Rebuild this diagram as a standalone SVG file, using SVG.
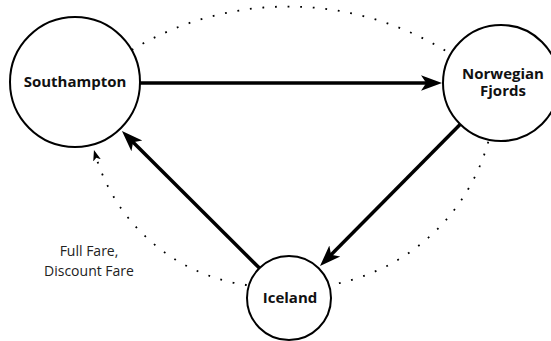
<svg xmlns="http://www.w3.org/2000/svg" width="551" height="341" viewBox="0 0 551 341">
  <style>
    .bg { fill: #ffffff; }
    .link { fill: none; stroke: #000000; }
    .solid { stroke-width: 3.5; }
    .dotted { stroke-width: 1.8; stroke-dasharray: 1.8 10.8; }
    .node circle { fill: #ffffff; stroke: #000000; stroke-width: 2; }
    .node text { font-family: "Open Sans", "DejaVu Sans", sans-serif; font-weight: bold; font-size: 15px; fill: #111111; text-anchor: middle; }
    .label { font-family: "Open Sans", "DejaVu Sans", sans-serif; font-size: 14px; fill: #222222; text-anchor: middle; }
  </style>
  <defs>
    <marker id="arrow" viewBox="0 -3 7 6" markerWidth="7" markerHeight="6" refX="3" refY="0" orient="auto" markerUnits="strokeWidth">
      <path d="M0,-2.2 L6,0 L0,2.2 L1.5,0 Z" fill="#000000"/>
    </marker>
  </defs>
  <rect class="bg" x="0" y="0" width="551" height="341"/>

  <g id="connectors">
    <!-- direct routes -->
    <path class="link solid" d="M140,83 L431.5,83" marker-end="url(#arrow)"/>
    <path class="link solid" d="M460.3,124.3 L327.4,258.5" marker-end="url(#arrow)"/>
    <path class="link solid" d="M259.4,268.1 L129.4,138.5" marker-end="url(#arrow)"/>
    <!-- return routes -->
    <path class="link dotted" d="M131.7,50 A302.6,302.6 0 0,1 447,51.7"/>
    <path class="link dotted" d="M488.3,141.7 A199.4,199.4 0 0,1 338.3,283.3"/>
    <path class="link dotted" d="M246.7,285 A183.5,183.5 0 0,1 95.5,155.2" marker-end="url(#arrow)"/>
    <text class="label" x="89" y="256">Full Fare,</text>
    <text class="label" x="89" y="276">Discount Fare</text>
  </g>

  <g id="southampton" class="node">
    <circle cx="75" cy="82" r="65"/>
    <text x="75" y="87">Southampton</text>
  </g>
  <g id="norwegian-fjords" class="node">
    <circle cx="501" cy="83" r="58"/>
    <text x="503" y="79">Norwegian</text>
    <text x="503" y="96">Fjords</text>
  </g>
  <g id="iceland" class="node">
    <circle cx="289" cy="298" r="42"/>
    <text x="290" y="303">Iceland</text>
  </g>
</svg>
